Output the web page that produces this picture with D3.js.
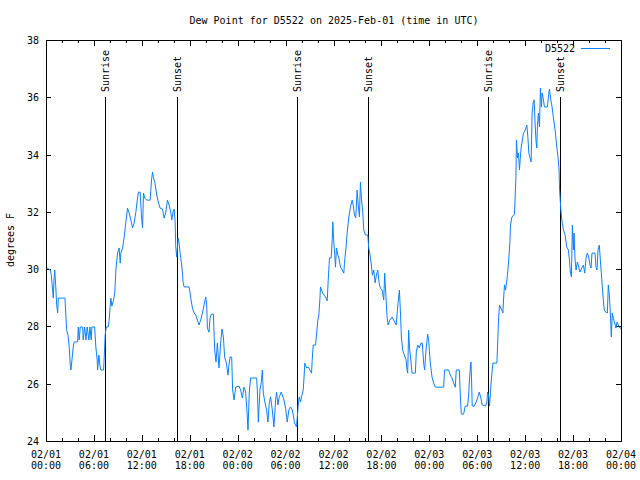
<!DOCTYPE html>
<html><head><meta charset="utf-8">
<script src="https://cdn.jsdelivr.net/npm/d3@7"></script>
<style>
body{margin:0;background:#fff}
text{font-family:"DejaVu Sans Mono",monospace;font-size:10px;fill:#000}
</style>
</head><body>
<svg id="chart" width="640" height="480"></svg>
<script>
const title = "Dew Point for D5522 on 2025-Feb-01 (time in UTC)";
const seriesName = "D5522";
const yLabel = "degrees F";
// hours since 2025-02-01 00:00 UTC
const hours = [0.12,0.54,0.66,0.75,0.91,1.0,1.09,1.21,1.34,1.46,1.54,2.37,2.59,2.75,2.91,3.04,3.12,3.25,3.41,3.54,3.96,4.04,4.16,4.29,4.59,4.66,4.84,5.0,5.16,5.37,5.5,5.66,5.75,6.09,6.25,6.41,6.46,6.62,6.75,6.87,7.21,7.29,7.41,7.54,7.79,7.91,8.04,8.12,8.25,8.46,8.62,8.75,8.96,9.16,9.29,9.37,9.59,9.79,10.0,10.21,10.41,10.62,10.84,11.04,11.25,11.46,11.59,11.79,11.96,12.09,12.21,12.37,12.62,13.04,13.21,13.34,13.46,13.62,13.87,14.09,14.29,14.59,14.79,15.0,15.21,15.41,15.62,15.75,15.91,16.04,16.16,16.25,16.37,16.54,16.66,16.79,16.96,17.09,17.16,17.29,17.91,18.04,18.12,18.34,18.54,18.75,18.96,19.16,19.37,19.59,19.79,20.0,20.12,20.21,20.41,20.54,20.71,20.96,21.12,21.29,21.46,21.66,21.87,22.04,22.21,22.37,22.59,22.79,22.91,23.04,23.25,23.37,23.54,23.75,24.16,24.37,24.59,24.79,25.0,25.21,25.29,25.46,25.62,26.37,26.46,26.59,26.79,26.96,27.09,27.21,27.41,27.62,27.79,27.96,28.12,28.34,28.54,28.75,28.87,29.04,29.21,29.46,29.79,30.0,30.21,30.41,30.62,30.84,30.96,31.12,31.37,31.59,31.71,31.87,32.0,32.21,32.29,32.41,32.62,32.84,33.04,33.25,33.34,33.46,33.75,33.87,34.04,34.16,34.29,34.37,34.59,34.79,35.0,35.21,35.34,35.5,35.71,35.84,35.91,36.04,36.16,36.25,36.37,36.54,36.66,36.87,37.09,37.29,37.37,37.54,37.71,37.91,38.12,38.34,38.46,38.62,38.79,38.96,39.09,39.25,39.37,39.5,39.66,39.79,40.0,40.29,40.41,40.54,40.71,40.87,41.04,41.21,41.37,41.54,41.71,41.87,42.09,42.29,42.41,42.59,42.71,42.84,43.04,43.34,43.54,43.84,44.04,44.16,44.25,44.37,44.5,44.66,44.87,45.09,45.21,45.29,45.41,45.54,45.71,45.84,46.25,46.37,46.54,46.75,46.96,47.12,47.29,47.41,47.59,47.79,47.91,48.12,48.34,48.54,48.75,49.79,49.91,50.41,50.62,50.84,51.04,51.25,51.37,51.75,51.87,52.0,52.29,52.5,52.79,52.91,53.04,53.21,53.29,53.37,53.62,53.87,54.09,54.25,54.46,54.62,55.04,55.21,55.29,55.41,55.54,55.71,55.84,55.96,56.46,56.54,56.66,56.79,56.87,57.09,57.21,57.29,57.41,57.54,57.71,57.84,57.96,58.09,58.16,58.34,58.66,58.75,58.84,58.91,59.04,59.16,59.29,59.37,59.5,59.66,59.79,59.91,60.09,60.21,60.34,60.46,60.62,60.75,60.87,61.0,61.12,61.25,61.37,61.46,61.54,61.66,61.79,61.91,62.04,62.12,62.29,62.41,62.79,62.91,63.04,63.21,63.37,63.54,63.75,63.96,64.12,64.25,64.31,64.46,64.59,64.79,65.0,65.21,65.41,65.54,65.66,65.79,65.91,66.04,66.12,66.25,66.37,66.54,66.71,66.87,67.09,67.29,67.46,67.62,67.79,67.96,68.12,68.25,68.37,68.75,68.87,69.0,69.12,69.29,69.41,69.54,69.66,69.79,69.91,70.09,70.29,70.41,70.54,70.66,70.79,70.91,71.04,71.21,71.37,71.5,71.66,71.87,72.0];
const dewPoint = [30.04,29.97,29.8,29.52,28.99,29.62,29.97,29.45,28.75,28.47,28.99,28.99,27.87,27.7,27.28,26.65,26.48,26.83,27.28,27.46,27.46,27.98,27.53,27.98,27.98,27.53,27.98,27.53,27.98,27.53,27.98,27.53,27.98,27.98,27.25,26.83,26.48,27.0,26.65,26.48,26.48,26.93,27.7,27.98,27.98,28.22,28.71,28.99,28.71,28.92,29.2,29.97,30.56,30.74,30.21,30.56,30.74,31.12,31.65,32.13,31.96,31.72,31.44,31.61,31.99,32.48,32.69,32.69,31.82,31.44,32.66,32.48,32.41,32.41,33.11,33.39,33.18,33.04,32.59,32.31,32.13,32.1,31.78,31.99,32.41,32.24,31.99,31.72,31.99,32.1,31.72,30.77,30.42,31.09,30.91,30.56,30.21,29.86,29.55,29.38,29.38,29.17,28.99,28.64,28.47,28.4,28.22,28.05,28.22,28.47,28.75,29.03,28.75,27.94,27.8,28.29,28.43,28.43,27.18,26.76,27.42,26.55,27.42,27.91,27.63,26.93,26.72,26.3,26.65,26.93,26.93,25.78,25.43,25.88,25.92,25.78,25.5,25.88,25.71,24.84,24.38,25.71,26.2,26.2,25.78,24.66,25.78,26.06,26.48,25.67,25.36,25.08,24.66,25.33,25.54,25.08,24.49,25.43,25.71,25.26,25.54,25.71,25.43,25.15,24.66,25.08,25.19,25.08,24.91,24.63,24.49,25.26,25.54,25.36,25.54,25.78,26.13,26.72,26.55,26.58,26.48,26.37,26.86,27.35,27.35,27.7,28.22,28.4,28.92,29.38,29.2,29.1,29.03,28.89,29.62,30.39,30.39,31.02,31.65,30.95,30.49,30.07,30.74,30.49,30.42,30.07,29.97,29.86,30.21,30.67,31.26,31.79,32.17,32.41,32.24,31.89,31.79,32.76,32.24,31.82,33.04,32.48,31.99,31.37,31.19,31.19,30.74,30.56,30.21,29.79,29.97,29.52,29.79,29.97,29.52,29.34,29.27,28.92,29.86,28.92,28.33,28.05,28.22,28.33,28.22,28.05,28.68,29.03,29.27,28.57,27.63,27.18,27.0,26.83,26.48,26.37,27.87,27.18,26.76,26.37,26.37,27.11,27.35,27.25,27.42,27.42,26.72,26.48,27.18,27.73,27.53,26.72,26.23,26.02,25.88,25.88,26.48,26.48,26.3,26.2,26.02,25.88,26.48,26.48,25.67,24.94,24.94,25.22,25.22,25.54,26.23,26.76,26.13,25.22,25.22,25.36,25.54,25.71,25.5,25.26,25.22,25.36,25.71,25.61,25.22,25.95,26.37,26.72,26.72,27.28,28.22,28.75,28.68,28.57,28.47,28.92,29.45,29.27,29.62,29.97,30.39,30.95,31.54,31.82,31.92,32.52,33.22,34.51,33.88,34.05,33.46,33.81,34.26,34.51,34.75,34.79,34.93,35.03,34.61,34.05,33.88,33.74,35.45,35.8,35.91,35.03,34.44,34.23,35.03,35.45,34.96,36.32,35.66,36.15,35.91,35.66,35.66,36.01,36.29,35.91,35.66,35.28,34.86,34.26,33.91,33.46,32.76,32.1,31.72,31.37,31.19,30.77,30.67,30.32,29.9,29.73,31.54,30.67,31.26,30.32,29.97,30.25,30.07,29.9,30.04,30.14,29.86,30.39,30.56,30.42,30.14,30.04,30.56,30.56,30.07,29.97,30.67,30.84,30.32,29.86,29.38,28.92,28.57,28.5,28.47,29.45,29.1,28.5,27.63,28.47,28.29,28.12,27.94,28.15,28.05,27.94,27.94];
const sunriseHours = [7.375, 31.375, 55.375];
const sunsetHours = [16.375, 40.375, 64.375];
const yTicks = [24, 26, 28, 30, 32, 34, 36, 38];

const t0 = Date.UTC(2025, 1, 1, 0, 0);
const toDate = h => new Date(t0 + h * 3600e3);
const W = 640, H = 480;
const L = 46, R = 621, T = 40, B = 441;

const svg = d3.select("#chart");
const x = d3.scaleUtc().domain([new Date(t0), toDate(72)]).range([L, R]);
const y = d3.scaleLinear().domain([24, 38]).range([B, T]);

// title
svg.append("text").attr("x", 334).attr("y", 24).attr("text-anchor", "middle").text(title);
// y label
svg.append("text").attr("transform", "translate(14,240) rotate(-90)").attr("text-anchor", "middle").text(yLabel);

const majorT = d3.utcHour.every(6).range(new Date(t0), toDate(72.01));
const minorT = d3.utcHour.every(2).range(new Date(t0), toDate(72.01)).filter(d => d.getUTCHours() % 6 !== 0);

function ticksX(g, vals, len) {
  g.selectAll(null).data(vals).enter().append("line")
    .attr("x1", d => Math.round(x(d)) + 0.5).attr("x2", d => Math.round(x(d)) + 0.5)
    .attr("y1", B).attr("y2", B - len).attr("stroke", "#000");
  g.selectAll(null).data(vals).enter().append("line")
    .attr("x1", d => Math.round(x(d)) + 0.5).attr("x2", d => Math.round(x(d)) + 0.5)
    .attr("y1", T).attr("y2", T + len).attr("stroke", "#000");
}
const tg = svg.append("g");
ticksX(tg, majorT, 6);
ticksX(tg, minorT, 3);
tg.selectAll(null).data(yTicks).enter().append("line")
  .attr("x1", L).attr("x2", L + 5).attr("y1", d => Math.round(y(d)) + 0.5).attr("y2", d => Math.round(y(d)) + 0.5).attr("stroke", "#000");
tg.selectAll(null).data(yTicks).enter().append("line")
  .attr("x1", R - 5).attr("x2", R).attr("y1", d => Math.round(y(d)) + 0.5).attr("y2", d => Math.round(y(d)) + 0.5).attr("stroke", "#000");

// y tick labels
svg.selectAll(null).data(yTicks).enter().append("text")
  .attr("x", 39).attr("y", d => y(d) + 4).attr("text-anchor", "end").text(d => d);

// x tick labels
const fDate = d3.utcFormat("%m/%d"), fTime = d3.utcFormat("%H:%M");
const xl = svg.selectAll(null).data(majorT).enter().append("g");
xl.append("text").attr("x", d => x(d)).attr("y", 458).attr("text-anchor", "middle").text(d => fDate(d));
xl.append("text").attr("x", d => x(d)).attr("y", 469).attr("text-anchor", "middle").text(d => fTime(d));

// sunrise / sunset
const events = sunriseHours.map(h => ({h, label: "Sunrise"})).concat(sunsetHours.map(h => ({h, label: "Sunset"})));
const ev = svg.selectAll(null).data(events).enter().append("g");
ev.append("line")
  .attr("x1", d => Math.round(x(toDate(d.h))) + 0.5).attr("x2", d => Math.round(x(toDate(d.h))) + 0.5)
  .attr("y1", 97).attr("y2", B).attr("stroke", "#000");
ev.append("text")
  .attr("transform", d => `translate(${Math.round(x(toDate(d.h))) + 4},92) rotate(-90)`)
  .text(d => d.label);

// series
const data = hours.map((h, i) => ({t: toDate(h), v: dewPoint[i]}));
svg.append("path").datum(data)
  .attr("fill", "none").attr("stroke", "#0a80ff").attr("stroke-width", 1)
  .attr("d", d3.line().x(d => x(d.t)).y(d => y(d.v)));

// frame
svg.append("rect").attr("x", L + 0.5).attr("y", T + 0.5).attr("width", R - L).attr("height", B - T)
  .attr("fill", "none").attr("stroke", "#000");

// legend
svg.append("text").attr("x", 575).attr("y", 52).attr("text-anchor", "end").text(seriesName);
svg.append("line").attr("x1", 581).attr("x2", 610).attr("y1", 48.5).attr("y2", 48.5).attr("stroke", "#0a80ff");
</script>
</body></html>
